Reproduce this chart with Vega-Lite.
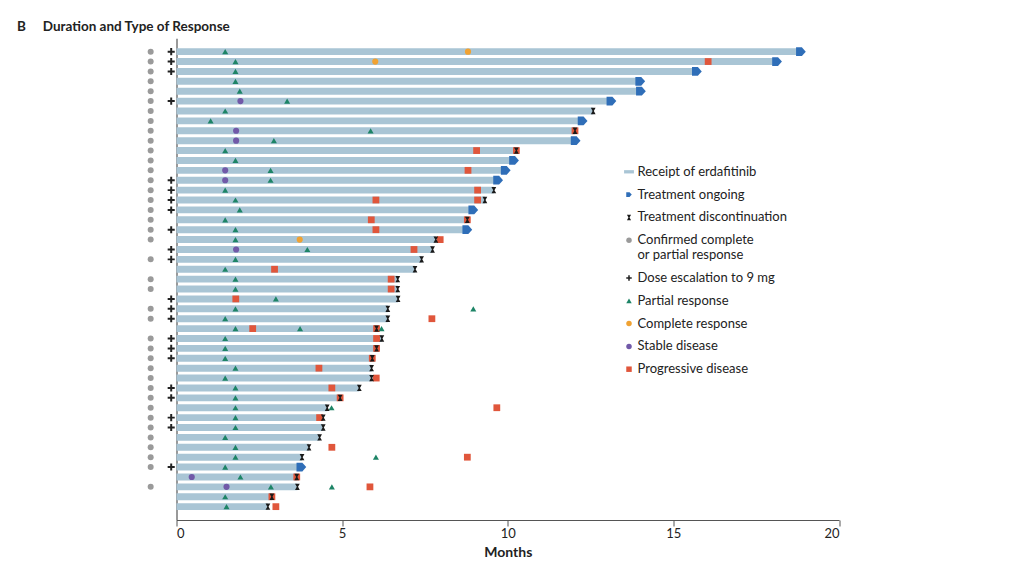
{
  "$schema": "https://vega.github.io/schema/vega-lite/v6.json",
  "autosize": {"type": "none"},
  "width": 662.5,
  "height": 481.7,
  "padding": {"left": 176.5, "top": 38.3, "right": 176, "bottom": 60},
  "background": "white",
  "config": {
    "font": "Lato",
    "view": {"stroke": null},
    "legend": {"labelFont": "Lato", "titleFont": "Lato"}
  },
  "title": {
    "text": "B\u2003\u2002Duration and Type of Response",
    "anchor": "start",
    "frame": "group",
    "dx": -159.5,
    "fontSize": 13.5,
    "fontWeight": "bold",
    "color": "#222222",
    "offset": 5
  },
  "datasets": {
    "bars": [
      {"id": "p01", "end": 18.85}, {"id": "p02", "end": 18.13}, {"id": "p03", "end": 15.71}, {"id": "p04", "end": 14.0},
      {"id": "p05", "end": 14.02}, {"id": "p06", "end": 13.13}, {"id": "p07", "end": 12.58}, {"id": "p08", "end": 12.26},
      {"id": "p09", "end": 12.03}, {"id": "p10", "end": 12.05}, {"id": "p11", "end": 10.26}, {"id": "p12", "end": 10.19},
      {"id": "p13", "end": 9.94}, {"id": "p14", "end": 9.71}, {"id": "p15", "end": 9.58}, {"id": "p16", "end": 9.31},
      {"id": "p17", "end": 8.96}, {"id": "p18", "end": 8.78}, {"id": "p19", "end": 8.78}, {"id": "p20", "end": 7.83},
      {"id": "p21", "end": 7.73}, {"id": "p22", "end": 7.4}, {"id": "p23", "end": 7.2}, {"id": "p24", "end": 6.68},
      {"id": "p25", "end": 6.68}, {"id": "p26", "end": 6.69}, {"id": "p27", "end": 6.38}, {"id": "p28", "end": 6.38},
      {"id": "p29", "end": 6.04}, {"id": "p30", "end": 6.2}, {"id": "p31", "end": 6.04}, {"id": "p32", "end": 5.91},
      {"id": "p33", "end": 5.89}, {"id": "p34", "end": 5.89}, {"id": "p35", "end": 5.52}, {"id": "p36", "end": 4.94},
      {"id": "p37", "end": 4.55}, {"id": "p38", "end": 4.43}, {"id": "p39", "end": 4.43}, {"id": "p40", "end": 4.32},
      {"id": "p41", "end": 4.0}, {"id": "p42", "end": 3.79}, {"id": "p43", "end": 3.77}, {"id": "p44", "end": 3.63},
      {"id": "p45", "end": 3.65}, {"id": "p46", "end": 2.88}, {"id": "p47", "end": 2.76}
    ],
    "events": [
      {"id": "p01", "t": 1.47, "type": "Partial response"}, {"id": "p01", "t": 8.8, "type": "Complete response"}, {"id": "p01", "t": 18.85, "type": "Treatment ongoing"}, {"id": "p01", "type": "Confirmed complete or partial response"}, {"id": "p01", "type": "Dose escalation to 9 mg"},
      {"id": "p02", "t": 1.78, "type": "Partial response"}, {"id": "p02", "t": 6.0, "type": "Complete response"}, {"id": "p02", "t": 16.05, "type": "Progressive disease"}, {"id": "p02", "t": 18.13, "type": "Treatment ongoing"}, {"id": "p02", "type": "Confirmed complete or partial response"}, {"id": "p02", "type": "Dose escalation to 9 mg"},
      {"id": "p03", "t": 1.78, "type": "Partial response"}, {"id": "p03", "t": 15.71, "type": "Treatment ongoing"}, {"id": "p03", "type": "Confirmed complete or partial response"}, {"id": "p03", "type": "Dose escalation to 9 mg"},
      {"id": "p04", "t": 1.78, "type": "Partial response"}, {"id": "p04", "t": 14.0, "type": "Treatment ongoing"}, {"id": "p04", "type": "Confirmed complete or partial response"},
      {"id": "p05", "t": 1.91, "type": "Partial response"}, {"id": "p05", "t": 14.02, "type": "Treatment ongoing"}, {"id": "p05", "type": "Confirmed complete or partial response"},
      {"id": "p06", "t": 1.93, "type": "Stable disease"}, {"id": "p06", "t": 3.34, "type": "Partial response"}, {"id": "p06", "t": 13.13, "type": "Treatment ongoing"}, {"id": "p06", "type": "Confirmed complete or partial response"}, {"id": "p06", "type": "Dose escalation to 9 mg"},
      {"id": "p07", "t": 1.47, "type": "Partial response"}, {"id": "p07", "t": 12.58, "type": "Treatment discontinuation"}, {"id": "p07", "type": "Confirmed complete or partial response"},
      {"id": "p08", "t": 1.03, "type": "Partial response"}, {"id": "p08", "t": 12.26, "type": "Treatment ongoing"}, {"id": "p08", "type": "Confirmed complete or partial response"},
      {"id": "p09", "t": 1.8, "type": "Stable disease"}, {"id": "p09", "t": 5.86, "type": "Partial response"}, {"id": "p09", "t": 12.03, "type": "Progressive disease"}, {"id": "p09", "t": 12.03, "type": "Treatment discontinuation"}, {"id": "p09", "type": "Confirmed complete or partial response"},
      {"id": "p10", "t": 1.8, "type": "Stable disease"}, {"id": "p10", "t": 2.94, "type": "Partial response"}, {"id": "p10", "t": 12.05, "type": "Treatment ongoing"}, {"id": "p10", "type": "Confirmed complete or partial response"},
      {"id": "p11", "t": 1.47, "type": "Partial response"}, {"id": "p11", "t": 9.06, "type": "Progressive disease"}, {"id": "p11", "t": 10.26, "type": "Progressive disease"}, {"id": "p11", "t": 10.26, "type": "Treatment discontinuation"}, {"id": "p11", "type": "Confirmed complete or partial response"},
      {"id": "p12", "t": 1.78, "type": "Partial response"}, {"id": "p12", "t": 10.19, "type": "Treatment ongoing"}, {"id": "p12", "type": "Confirmed complete or partial response"},
      {"id": "p13", "t": 1.47, "type": "Stable disease"}, {"id": "p13", "t": 2.84, "type": "Partial response"}, {"id": "p13", "t": 8.8, "type": "Progressive disease"}, {"id": "p13", "t": 9.94, "type": "Treatment ongoing"}, {"id": "p13", "type": "Confirmed complete or partial response"},
      {"id": "p14", "t": 1.47, "type": "Stable disease"}, {"id": "p14", "t": 2.84, "type": "Partial response"}, {"id": "p14", "t": 9.71, "type": "Treatment ongoing"}, {"id": "p14", "type": "Confirmed complete or partial response"}, {"id": "p14", "type": "Dose escalation to 9 mg"},
      {"id": "p15", "t": 1.47, "type": "Partial response"}, {"id": "p15", "t": 9.09, "type": "Progressive disease"}, {"id": "p15", "t": 9.58, "type": "Treatment discontinuation"}, {"id": "p15", "type": "Confirmed complete or partial response"}, {"id": "p15", "type": "Dose escalation to 9 mg"},
      {"id": "p16", "t": 1.78, "type": "Partial response"}, {"id": "p16", "t": 6.02, "type": "Progressive disease"}, {"id": "p16", "t": 9.09, "type": "Progressive disease"}, {"id": "p16", "t": 9.31, "type": "Treatment discontinuation"}, {"id": "p16", "type": "Confirmed complete or partial response"}, {"id": "p16", "type": "Dose escalation to 9 mg"},
      {"id": "p17", "t": 1.91, "type": "Partial response"}, {"id": "p17", "t": 8.96, "type": "Treatment ongoing"}, {"id": "p17", "type": "Confirmed complete or partial response"}, {"id": "p17", "type": "Dose escalation to 9 mg"},
      {"id": "p18", "t": 1.47, "type": "Partial response"}, {"id": "p18", "t": 5.88, "type": "Progressive disease"}, {"id": "p18", "t": 8.78, "type": "Progressive disease"}, {"id": "p18", "t": 8.78, "type": "Treatment discontinuation"}, {"id": "p18", "type": "Confirmed complete or partial response"},
      {"id": "p19", "t": 1.78, "type": "Partial response"}, {"id": "p19", "t": 6.02, "type": "Progressive disease"}, {"id": "p19", "t": 8.78, "type": "Treatment ongoing"}, {"id": "p19", "type": "Confirmed complete or partial response"}, {"id": "p19", "type": "Dose escalation to 9 mg"},
      {"id": "p20", "t": 1.78, "type": "Partial response"}, {"id": "p20", "t": 3.72, "type": "Complete response"}, {"id": "p20", "t": 7.96, "type": "Progressive disease"}, {"id": "p20", "t": 7.83, "type": "Treatment discontinuation"}, {"id": "p20", "type": "Confirmed complete or partial response"},
      {"id": "p21", "t": 1.8, "type": "Stable disease"}, {"id": "p21", "t": 3.95, "type": "Partial response"}, {"id": "p21", "t": 7.17, "type": "Progressive disease"}, {"id": "p21", "t": 7.73, "type": "Treatment discontinuation"}, {"id": "p21", "type": "Dose escalation to 9 mg"},
      {"id": "p22", "t": 1.78, "type": "Partial response"}, {"id": "p22", "t": 7.4, "type": "Treatment discontinuation"}, {"id": "p22", "type": "Confirmed complete or partial response"}, {"id": "p22", "type": "Dose escalation to 9 mg"},
      {"id": "p23", "t": 1.47, "type": "Partial response"}, {"id": "p23", "t": 2.96, "type": "Progressive disease"}, {"id": "p23", "t": 7.2, "type": "Treatment discontinuation"},
      {"id": "p24", "t": 1.78, "type": "Partial response"}, {"id": "p24", "t": 6.48, "type": "Progressive disease"}, {"id": "p24", "t": 6.68, "type": "Treatment discontinuation"}, {"id": "p24", "type": "Confirmed complete or partial response"},
      {"id": "p25", "t": 1.78, "type": "Partial response"}, {"id": "p25", "t": 6.48, "type": "Progressive disease"}, {"id": "p25", "t": 6.68, "type": "Treatment discontinuation"}, {"id": "p25", "type": "Confirmed complete or partial response"},
      {"id": "p26", "t": 1.79, "type": "Progressive disease"}, {"id": "p26", "t": 3.0, "type": "Partial response"}, {"id": "p26", "t": 6.69, "type": "Treatment discontinuation"}, {"id": "p26", "type": "Dose escalation to 9 mg"},
      {"id": "p27", "t": 1.78, "type": "Partial response"}, {"id": "p27", "t": 8.96, "type": "Partial response"}, {"id": "p27", "t": 6.38, "type": "Treatment discontinuation"}, {"id": "p27", "type": "Confirmed complete or partial response"}, {"id": "p27", "type": "Dose escalation to 9 mg"},
      {"id": "p28", "t": 1.47, "type": "Partial response"}, {"id": "p28", "t": 7.71, "type": "Progressive disease"}, {"id": "p28", "t": 6.38, "type": "Treatment discontinuation"}, {"id": "p28", "type": "Confirmed complete or partial response"}, {"id": "p28", "type": "Dose escalation to 9 mg"},
      {"id": "p29", "t": 1.78, "type": "Partial response"}, {"id": "p29", "t": 2.3, "type": "Progressive disease"}, {"id": "p29", "t": 3.73, "type": "Partial response"}, {"id": "p29", "t": 6.04, "type": "Progressive disease"}, {"id": "p29", "t": 6.19, "type": "Partial response"}, {"id": "p29", "t": 6.04, "type": "Treatment discontinuation"},
      {"id": "p30", "t": 1.47, "type": "Partial response"}, {"id": "p30", "t": 6.04, "type": "Progressive disease"}, {"id": "p30", "t": 6.2, "type": "Treatment discontinuation"}, {"id": "p30", "type": "Confirmed complete or partial response"}, {"id": "p30", "type": "Dose escalation to 9 mg"},
      {"id": "p31", "t": 1.47, "type": "Partial response"}, {"id": "p31", "t": 6.04, "type": "Progressive disease"}, {"id": "p31", "t": 6.04, "type": "Treatment discontinuation"}, {"id": "p31", "type": "Confirmed complete or partial response"}, {"id": "p31", "type": "Dose escalation to 9 mg"},
      {"id": "p32", "t": 1.47, "type": "Partial response"}, {"id": "p32", "t": 5.91, "type": "Progressive disease"}, {"id": "p32", "t": 5.91, "type": "Treatment discontinuation"}, {"id": "p32", "type": "Confirmed complete or partial response"}, {"id": "p32", "type": "Dose escalation to 9 mg"},
      {"id": "p33", "t": 1.78, "type": "Partial response"}, {"id": "p33", "t": 4.3, "type": "Progressive disease"}, {"id": "p33", "t": 5.89, "type": "Treatment discontinuation"}, {"id": "p33", "type": "Confirmed complete or partial response"},
      {"id": "p34", "t": 1.47, "type": "Partial response"}, {"id": "p34", "t": 6.03, "type": "Progressive disease"}, {"id": "p34", "t": 5.89, "type": "Treatment discontinuation"}, {"id": "p34", "type": "Confirmed complete or partial response"},
      {"id": "p35", "t": 1.78, "type": "Partial response"}, {"id": "p35", "t": 4.69, "type": "Progressive disease"}, {"id": "p35", "t": 5.52, "type": "Treatment discontinuation"}, {"id": "p35", "type": "Confirmed complete or partial response"}, {"id": "p35", "type": "Dose escalation to 9 mg"},
      {"id": "p36", "t": 1.78, "type": "Partial response"}, {"id": "p36", "t": 4.94, "type": "Progressive disease"}, {"id": "p36", "t": 4.94, "type": "Treatment discontinuation"}, {"id": "p36", "type": "Confirmed complete or partial response"}, {"id": "p36", "type": "Dose escalation to 9 mg"},
      {"id": "p37", "t": 1.78, "type": "Partial response"}, {"id": "p37", "t": 4.68, "type": "Partial response"}, {"id": "p37", "t": 9.67, "type": "Progressive disease"}, {"id": "p37", "t": 4.55, "type": "Treatment discontinuation"}, {"id": "p37", "type": "Confirmed complete or partial response"},
      {"id": "p38", "t": 1.78, "type": "Partial response"}, {"id": "p38", "t": 4.32, "type": "Progressive disease"}, {"id": "p38", "t": 4.43, "type": "Treatment discontinuation"}, {"id": "p38", "type": "Confirmed complete or partial response"}, {"id": "p38", "type": "Dose escalation to 9 mg"},
      {"id": "p39", "t": 1.78, "type": "Partial response"}, {"id": "p39", "t": 4.43, "type": "Treatment discontinuation"}, {"id": "p39", "type": "Confirmed complete or partial response"}, {"id": "p39", "type": "Dose escalation to 9 mg"},
      {"id": "p40", "t": 1.47, "type": "Partial response"}, {"id": "p40", "t": 4.32, "type": "Treatment discontinuation"}, {"id": "p40", "type": "Confirmed complete or partial response"},
      {"id": "p41", "t": 1.78, "type": "Partial response"}, {"id": "p41", "t": 4.69, "type": "Progressive disease"}, {"id": "p41", "t": 4.0, "type": "Treatment discontinuation"}, {"id": "p41", "type": "Confirmed complete or partial response"},
      {"id": "p42", "t": 1.78, "type": "Partial response"}, {"id": "p42", "t": 6.02, "type": "Partial response"}, {"id": "p42", "t": 8.78, "type": "Progressive disease"}, {"id": "p42", "t": 3.79, "type": "Treatment discontinuation"}, {"id": "p42", "type": "Confirmed complete or partial response"},
      {"id": "p43", "t": 1.47, "type": "Partial response"}, {"id": "p43", "t": 3.77, "type": "Treatment ongoing"}, {"id": "p43", "type": "Confirmed complete or partial response"}, {"id": "p43", "type": "Dose escalation to 9 mg"},
      {"id": "p44", "t": 0.46, "type": "Stable disease"}, {"id": "p44", "t": 1.93, "type": "Partial response"}, {"id": "p44", "t": 3.63, "type": "Progressive disease"}, {"id": "p44", "t": 3.63, "type": "Treatment discontinuation"},
      {"id": "p45", "t": 1.51, "type": "Stable disease"}, {"id": "p45", "t": 2.85, "type": "Partial response"}, {"id": "p45", "t": 4.69, "type": "Partial response"}, {"id": "p45", "t": 5.84, "type": "Progressive disease"}, {"id": "p45", "t": 3.65, "type": "Treatment discontinuation"}, {"id": "p45", "type": "Confirmed complete or partial response"},
      {"id": "p46", "t": 1.47, "type": "Partial response"}, {"id": "p46", "t": 2.88, "type": "Progressive disease"}, {"id": "p46", "t": 2.88, "type": "Treatment discontinuation"},
      {"id": "p47", "t": 1.51, "type": "Partial response"}, {"id": "p47", "t": 3.0, "type": "Progressive disease"}, {"id": "p47", "t": 2.76, "type": "Treatment discontinuation"}
    ]
  },
  "encoding": {
    "y": {
      "field": "id",
      "type": "nominal",
      "sort": "ascending",
      "scale": {"paddingInner": 0.3, "paddingOuter": 1.365},
      "axis": {"title": null, "labels": false, "ticks": false, "domain": true, "domainColor": "#555555", "domainWidth": 1.2}
    },
    "color": {
      "field": "type", "type": "nominal", "title": null,
      "scale": {
        "domain": ["Receipt of erdafitinib", "Treatment ongoing", "Treatment discontinuation", "Confirmed complete or partial response", "Dose escalation to 9 mg", "Partial response", "Complete response", "Stable disease", "Progressive disease"],
        "range": ["#a9c5d5", "#2f6eb8", "#1a1a1a", "#9a9a9a", "#222222", "#1d8466", "#f0a232", "#7159a8", "#e0563b"]
      },
      "legend": {
        "orient": "none",
        "legendX": 446,
        "legendY": 127,
        "labelFontSize": 13,
        "labelColor": "#222222",
        "symbolSize": 30,
        "rowPadding": 8.8,
        "labelOffset": 2,
        "labelLimit": 300,
        "labelExpr": "datum.label == 'Confirmed complete or partial response' ? ['Confirmed complete', 'or partial response'] : datum.label"
      }
    },
    "shape": {
      "field": "type", "type": "nominal", "title": null,
      "scale": {
        "domain": ["Receipt of erdafitinib", "Treatment ongoing", "Treatment discontinuation", "Confirmed complete or partial response", "Dose escalation to 9 mg", "Partial response", "Complete response", "Stable disease", "Progressive disease"],
        "range": ["M-1.8,-0.6L1.8,-0.6L1.8,0.6L-1.8,0.6Z", "M-1,-0.9L0.2,-0.9L1,0L0.2,0.9L-1,0.9Z", "M-0.75,-1L0.75,-1L0.2,0L0.75,1L-0.75,1L-0.2,0Z", "circle", "M-1,-0.28L-0.28,-0.28L-0.28,-1L0.28,-1L0.28,-0.28L1,-0.28L1,0.28L0.28,0.28L0.28,1L-0.28,1L-0.28,0.28L-1,0.28Z", "triangle-up", "circle", "circle", "square"]
      },
      "legend": {
        "orient": "none",
        "legendX": 446,
        "legendY": 127,
        "labelFontSize": 13,
        "labelColor": "#222222",
        "symbolSize": 30,
        "rowPadding": 8.8,
        "labelOffset": 2,
        "labelLimit": 300,
        "labelExpr": "datum.label == 'Confirmed complete or partial response' ? ['Confirmed complete', 'or partial response'] : datum.label"
      }
    }
  },
  "layer": [
    {
      "data": {"name": "bars"},
      "mark": {"type": "bar", "color": "#a9c5d5"},
      "encoding": {
        "color": {"value": "#a9c5d5"},
        "shape": {"value": "square"},
        "x": {
          "field": "end",
          "type": "quantitative",
          "scale": {"domain": [0, 20], "nice": false, "zero": true},
          "axis": {
            "title": "Months",
            "values": [0, 5, 10, 15, 20],
            "grid": false,
            "domainColor": "#555555",
            "domainWidth": 1.2,
            "tickColor": "#555555",
            "tickSize": 6,
            "labelFontSize": 13,
            "labelColor": "#222222",
            "labelPadding": 1,
            "titleFontSize": 14,
            "titleFontWeight": "bold",
            "titleColor": "#222222",
            "titlePadding": 5
          }
        }
      }
    },
    {
      "data": {"name": "events"},
      "transform": [{"filter": "datum.type == 'Progressive disease'"}],
      "mark": {"type": "point", "filled": true, "opacity": 1, "strokeWidth": 0, "size": 46},
      "encoding": {"x": {"field": "t", "type": "quantitative"}}
    },
    {
      "data": {"name": "events"},
      "transform": [{"filter": "datum.type == 'Partial response'"}],
      "mark": {"type": "point", "filled": true, "opacity": 1, "strokeWidth": 0, "size": 36},
      "encoding": {"x": {"field": "t", "type": "quantitative"}}
    },
    {
      "data": {"name": "events"},
      "transform": [{"filter": "datum.type == 'Complete response' || datum.type == 'Stable disease'"}],
      "mark": {"type": "point", "filled": true, "opacity": 1, "strokeWidth": 0, "size": 38},
      "encoding": {"x": {"field": "t", "type": "quantitative"}}
    },
    {
      "data": {"name": "events"},
      "transform": [{"filter": "datum.type == 'Treatment discontinuation'"}],
      "mark": {"type": "point", "filled": true, "opacity": 1, "strokeWidth": 0, "size": 40},
      "encoding": {"x": {"field": "t", "type": "quantitative"}}
    },
    {
      "data": {"name": "events"},
      "transform": [{"filter": "datum.type == 'Treatment ongoing'"}],
      "mark": {"type": "point", "filled": true, "opacity": 1, "strokeWidth": 0, "size": 95},
      "encoding": {"x": {"field": "t", "type": "quantitative"}}
    },
    {
      "data": {"name": "events"},
      "transform": [{"filter": "datum.type == 'Confirmed complete or partial response'"}],
      "mark": {"type": "point", "filled": true, "opacity": 1, "strokeWidth": 0, "size": 36},
      "encoding": {"x": {"datum": -0.78}}
    },
    {
      "data": {"name": "events"},
      "transform": [{"filter": "datum.type == 'Dose escalation to 9 mg'"}],
      "mark": {"type": "point", "filled": true, "opacity": 1, "strokeWidth": 0, "size": 50},
      "encoding": {"x": {"datum": -0.16}}
    }
  ]
}
